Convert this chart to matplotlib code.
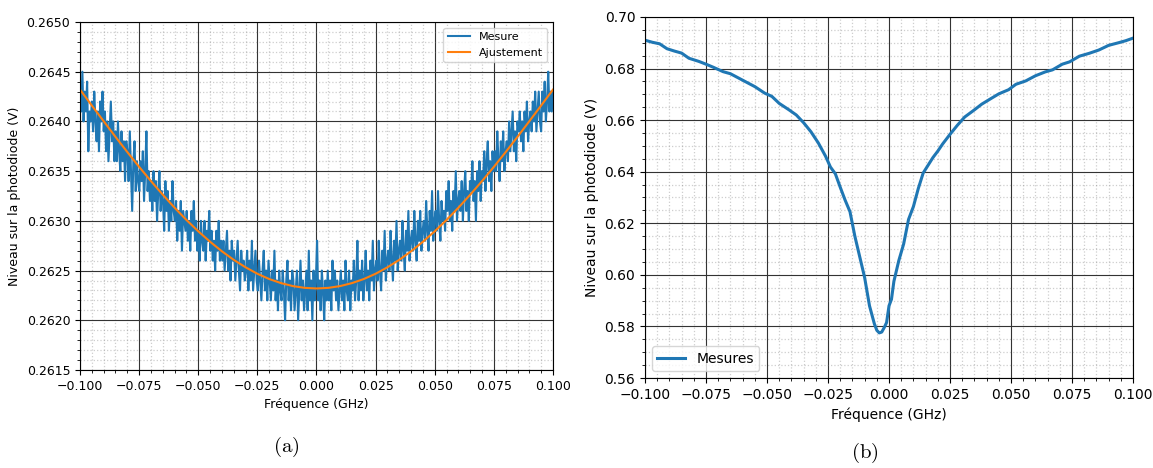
import numpy as np
import matplotlib
matplotlib.use('Agg')
import matplotlib.pyplot as plt
from matplotlib.ticker import FuncFormatter

# (a) noisy measurement, in units of 0.1 mV above 0.2600 V
mesure_raw = [
    44, 41, 45, 40, 43, 41, 44, 37, 41, 40,
    42, 39, 43, 40, 38, 41, 37, 42, 40, 43,
    39, 41, 37, 40, 36, 39, 42, 38, 40, 36,
    39, 36, 40, 37, 35, 39, 36, 38, 34, 38,
    37, 34, 39, 35, 31, 36, 38, 33, 36, 34,
    33, 36, 34, 37, 32, 35, 39, 33, 35, 32,
    34, 31, 35, 32, 34, 30, 33, 35, 31, 33,
    32, 29, 34, 31, 33, 29, 32, 30, 34, 31,
    30, 32, 28, 31, 29, 32, 27, 31, 30, 29,
    31, 28, 30, 27, 31, 29, 32, 28, 30, 27,
    29, 26, 30, 28, 27, 30, 26, 29, 28, 31,
    27, 29, 26, 28, 25, 29, 27, 30, 26, 28,
    26, 28, 25, 27, 29, 25, 27, 24, 28, 26,
    27, 24, 26, 28, 25, 23, 27, 25, 26, 24,
    25, 27, 23, 26, 24, 28, 23, 25, 27, 24,
    23, 26, 24, 22, 25, 27, 23, 25, 22, 26,
    24, 22, 25, 23, 27, 22, 24, 21, 25, 23,
    22, 25, 23, 20, 24, 26, 22, 24, 21, 25,
    24, 21, 23, 25, 20, 23, 26, 22, 24, 21,
    23, 25, 21, 27, 22, 24, 20, 25, 22, 24,
    28, 22, 24, 21, 25, 23, 20, 24, 22, 25,
    22, 24, 21, 26, 23, 25, 22, 24, 21, 23,
    25, 22, 24, 21, 26, 23, 22, 25, 21, 24,
    23, 26, 22, 24, 28, 22, 25, 23, 26, 22,
    24, 27, 23, 25, 22, 26, 24, 28, 23, 25,
    26, 24, 28, 25, 23, 27, 25, 29, 24, 26,
    27, 25, 29, 26, 24, 28, 26, 30, 25, 27,
    28, 26, 30, 27, 25, 29, 27, 31, 26, 28,
    29, 27, 31, 28, 26, 30, 28, 31, 27, 29,
    30, 28, 32, 29, 27, 31, 29, 33, 28, 30,
    31, 29, 33, 30, 28, 32, 30, 31, 29, 33,
    31, 34, 30, 32, 29, 33, 31, 35, 30, 32,
    33, 31, 34, 30, 33, 35, 31, 33, 30, 34,
    33, 36, 32, 34, 30, 35, 33, 36, 32, 35,
    34, 37, 33, 36, 38, 34, 36, 33, 37, 35,
    37, 35, 39, 36, 34, 38, 36, 39, 35, 37,
    38, 36, 40, 37, 39, 41, 37, 39, 36, 40,
    39, 41, 38, 40, 37, 41, 39, 42, 38, 40,
    41, 39, 42, 40, 43, 39, 41, 43, 40, 39,
    43, 41, 44, 40, 42, 45, 41, 43, 41, 43,
]

# (a) fitted curve, sampled every 0.005 GHz
fit_v = [0.264320, 0.264160, 0.264002, 0.263845, 0.263692, 0.263543, 0.263400,
         0.263263, 0.263132, 0.263009, 0.262895, 0.262790, 0.262694, 0.262608,
         0.262533, 0.262468, 0.262415, 0.262374, 0.262344, 0.262326, 0.262320,
         0.262326, 0.262344, 0.262374, 0.262415, 0.262468, 0.262533, 0.262608,
         0.262694, 0.262790, 0.262895, 0.263009, 0.263132, 0.263263, 0.263400,
         0.263543, 0.263692, 0.263845, 0.264002, 0.264160, 0.264320]

# (b) measured dip
mes_f = [-0.100, -0.097, -0.094, -0.091, -0.088, -0.085, -0.082, -0.078, -0.075,
         -0.072, -0.068, -0.065, -0.061, -0.058, -0.055, -0.051, -0.048, -0.045,
         -0.041, -0.038, -0.035, -0.032, -0.029, -0.026, -0.024, -0.022, -0.020,
         -0.018, -0.016, -0.014, -0.012, -0.010, -0.008, -0.006, -0.005, -0.004,
         -0.003, -0.002, -0.001, 0.000, 0.001, 0.002, 0.004, 0.006, 0.008, 0.010,
         0.012, 0.014, 0.016, 0.018, 0.020, 0.022, 0.025, 0.028, 0.031, 0.035,
         0.038, 0.042, 0.045, 0.049, 0.052, 0.056, 0.060, 0.064, 0.067, 0.071,
         0.074, 0.078, 0.082, 0.086, 0.090, 0.094, 0.097, 0.100]
mes_v = [0.6910, 0.6902, 0.6896, 0.6877, 0.6868, 0.6860, 0.6840, 0.6828, 0.6817,
         0.6805, 0.6788, 0.6780, 0.6760, 0.6745, 0.6730, 0.6705, 0.6692, 0.6665,
         0.6640, 0.6620, 0.6590, 0.6555, 0.6512, 0.6460, 0.6418, 0.6392, 0.6340,
         0.6290, 0.6245, 0.6150, 0.6070, 0.5990, 0.5880, 0.5810, 0.5785, 0.5775,
         0.5778, 0.5795, 0.5815, 0.5880, 0.5905, 0.5975, 0.6055, 0.6120, 0.6215,
         0.6265, 0.6335, 0.6395, 0.6425, 0.6455, 0.6480, 0.6508, 0.6545, 0.6580,
         0.6612, 0.6640, 0.6662, 0.6685, 0.6702, 0.6718, 0.6739, 0.6752, 0.6772,
         0.6787, 0.6795, 0.6817, 0.6826, 0.6848, 0.6859, 0.6872, 0.6890, 0.6900,
         0.6908, 0.6918]

xticks = [-0.100, -0.075, -0.050, -0.025, 0.000, 0.025, 0.050, 0.075, 0.100]


def fmt(nd):
    return FuncFormatter(lambda v, p: f'{v:.{nd}f}'.replace('-', '\u2212'))


def style_grid(ax, yticks, ysub, nd, fs):
    ax.set_xlim(xticks[0], xticks[-1])
    ax.set_ylim(yticks[0], yticks[-1])
    ax.set_xticks(xticks)
    ax.set_yticks(yticks)
    # minor ticks between the majors (majors left out)
    xs = np.linspace(xticks[0], xticks[-1], 5 * (len(xticks) - 1) + 1)
    ys = np.linspace(yticks[0], yticks[-1], ysub * (len(yticks) - 1) + 1)
    ax.set_xticks([v for i, v in enumerate(xs) if i % 5], minor=True)
    ax.set_yticks([v for i, v in enumerate(ys) if i % ysub], minor=True)
    ax.xaxis.set_major_formatter(fmt(3))
    ax.yaxis.set_major_formatter(fmt(nd))
    ax.grid(which='minor', color='0.45', alpha=0.35, lw=0.9, ls=':')
    ax.grid(which='major', color='0.2', lw=0.8)
    ax.set_axisbelow(True)
    ax.tick_params(labelsize=fs)
    ax.set_xlabel('Fréquence (GHz)', fontsize=fs)
    ax.set_ylabel('Niveau sur la photodiode (V)', fontsize=fs)


fig = plt.figure(figsize=(11.53, 4.68), dpi=100)

ax1 = fig.add_axes([0.0694, 0.2094, 0.4102, 0.7436])
fa = np.linspace(-0.1, 0.1, len(mesure_raw))
va = 0.26 + np.array(mesure_raw) * 1e-4
ax1.plot(fa, va, color='#1f77b4', lw=1.5, label='Mesure')
ax1.plot(np.linspace(-0.1, 0.1, len(fit_v)), fit_v, color='#ff7f0e', lw=1.5,
         label='Ajustement')
style_grid(ax1, [0.2615, 0.2620, 0.2625, 0.2630, 0.2635, 0.2640, 0.2645, 0.2650],
           5, 4, 9)
ax1.legend(loc='upper right', fontsize=8)

ax2 = fig.add_axes([0.5594, 0.1923, 0.4233, 0.7714])
ax2.plot(mes_f, mes_v, color='#1f77b4', lw=2.2, label='Mesures')
style_grid(ax2, [0.56, 0.58, 0.60, 0.62, 0.64, 0.66, 0.68, 0.70], 4, 2, 10)
ax2.legend(loc='lower left', fontsize=10)

plt.rcParams['mathtext.fontset'] = 'cm'
fig.text(0.248, 0.035, r'$\mathrm{(a)}$', ha='center', fontsize=15)
fig.text(0.750, 0.022, r'$\mathrm{(b)}$', ha='center', fontsize=15)

fig.savefig('out.png', dpi=100)
